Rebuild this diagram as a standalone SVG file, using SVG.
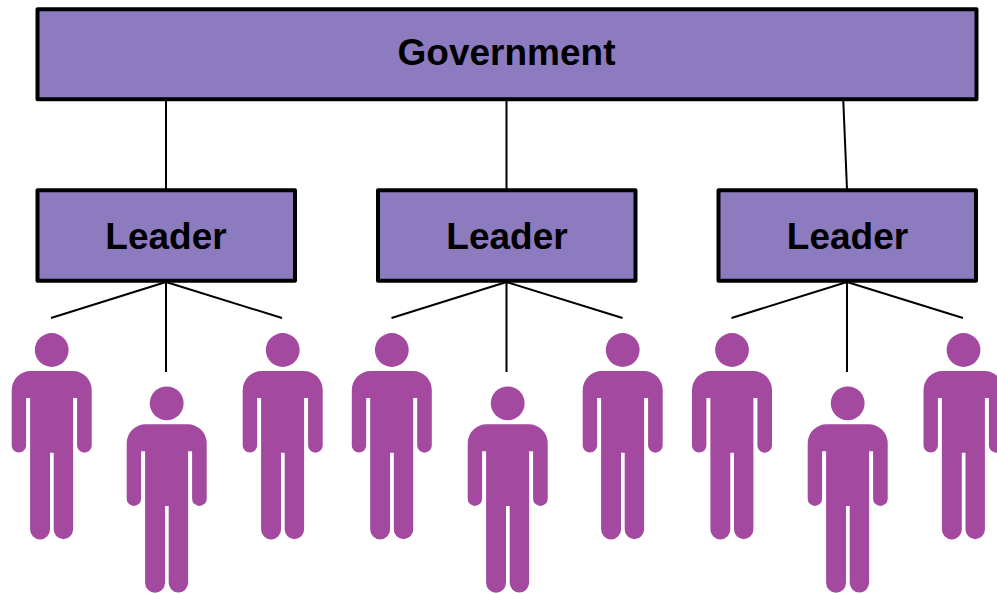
<svg xmlns="http://www.w3.org/2000/svg" xmlns:xlink="http://www.w3.org/1999/xlink" width="997" height="594" viewBox="0 0 997 594">
<style>
.box{fill:#8c7bbe;stroke:#000;stroke-width:4;stroke-linejoin:round}
.lbl{font-family:"Liberation Sans",Arial,sans-serif;font-weight:bold;font-size:37px;fill:#000;text-anchor:middle}
.conn{stroke:#000;stroke-width:2;fill:none}
.person{fill:#a349a0}
</style>
<defs>
<g id="person">
<circle cx="0" cy="-21" r="16.9"/>
<path d="M-21,0H21A19,19 0 0 1 40,19V74.400A7.300,7.300 0 0 1 25.400,74.400V27H21.400V158.500A9.700,9.700 0 0 1 2,158.500V81.700H-1.700V158.500A9.950,9.950 0 0 1 -21.600,158.500V27H-25.600V74.400A7.200,7.200 0 0 1 -40,74.400V19A19,19 0 0 1 -21,0Z"/>
</g>
</defs>
<rect width="997" height="594" fill="#fff"/>
<g id="connectors" class="conn">
<path d="M166,101V189"/>
<path d="M506.500,101V189"/>
<path d="M843.300,101L847,189"/>
<path d="M166,282L51,318M166,282V372M166,282L282,318"/>
<path d="M506.500,282L391.500,318M506.500,282V372M506.500,282L622.500,318"/>
<path d="M847,282L731.500,318M847,282V372M847,282L963,318"/>
</g>
<g id="government"><rect class="box" x="37.500" y="9.200" width="939" height="90"/><text class="lbl" x="506.500" y="64.500">Government</text></g>
<g id="leader-1"><rect class="box" x="37.500" y="190.300" width="257.500" height="90.500"/><text class="lbl" x="166" y="248.500">Leader</text></g>
<g id="leader-2"><rect class="box" x="378" y="190.300" width="257.500" height="90.500"/><text class="lbl" x="507" y="248.500">Leader</text></g>
<g id="leader-3"><rect class="box" x="718.500" y="190.300" width="257.500" height="90.500"/><text class="lbl" x="847.500" y="248.500">Leader</text></g>
<g id="person-1" class="person"><use xlink:href="#person" href="#person" x="51.700" y="371"/></g>
<g id="person-2" class="person"><use xlink:href="#person" href="#person" x="166.700" y="424.300"/></g>
<g id="person-3" class="person"><use xlink:href="#person" href="#person" x="282.700" y="371"/></g>
<g id="person-4" class="person"><use xlink:href="#person" href="#person" x="391.800" y="371"/></g>
<g id="person-5" class="person"><use xlink:href="#person" href="#person" x="507.700" y="424.300"/></g>
<g id="person-6" class="person"><use xlink:href="#person" href="#person" x="622.700" y="371"/></g>
<g id="person-7" class="person"><use xlink:href="#person" href="#person" x="732" y="371"/></g>
<g id="person-8" class="person"><use xlink:href="#person" href="#person" x="847.700" y="424.300"/></g>
<g id="person-9" class="person"><use xlink:href="#person" href="#person" x="963.500" y="371"/></g>
</svg>
